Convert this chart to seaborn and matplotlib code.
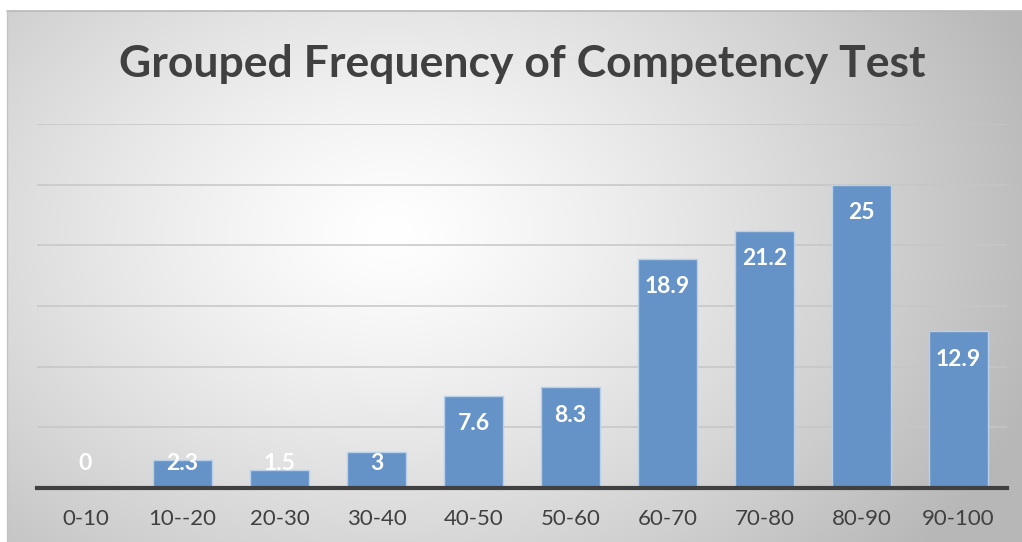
import numpy as np
import pandas as pd
import matplotlib
matplotlib.use("Agg")
import matplotlib.pyplot as plt
import seaborn as sns

# Score bands and how often each occurs
categories = ["0-10", "10--20", "20-30", "30-40", "40-50",
              "50-60", "60-70", "70-80", "80-90", "90-100"]
frequency = [0, 2.3, 1.5, 3, 7.6, 8.3, 18.9, 21.2, 25, 12.9]
value_labels = ["0", "2.3", "1.5", "3", "7.6", "8.3", "18.9", "21.2", "25", "12.9"]

df = pd.DataFrame({"band": categories, "freq": frequency})

sns.set_theme(style="white")
plt.rcParams["font.family"] = ["Lato", "DejaVu Sans"]

W, H = 1022, 542
fig = plt.figure(figsize=(W / 100, H / 100), dpi=100)
fig.patch.set_facecolor("white")

# Radial grey-to-white backdrop for the chart area
bg = fig.add_axes([7 / W, 0, 1 - 7 / W, (H - 11) / H])
bg.set_axis_off()
ny, nx = 300, 600
yy, xx = np.mgrid[0:ny, 0:nx]
px = xx / nx * (W - 7) + 7
py = yy / ny * (H - 11) + 11
d = np.sqrt(((px - 390) / 680) ** 2 + ((py - 230) / 500) ** 2)
shade = 1.0 - 0.28 * np.clip(d, 0, 1.0) ** 1.25
rgb = np.dstack([shade, shade, shade])
bg.imshow(rgb, aspect="auto", extent=[0, 1, 0, 1], origin="upper", interpolation="bilinear")
bg.set_xlim(0, 1)
bg.set_ylim(0, 1)
bg.plot([0, 1], [1, 1], color="#b8b8b8", lw=1.2, transform=bg.transAxes, clip_on=False)
bg.plot([0, 0], [0, 1], color="#c4c4c4", lw=1.0, transform=bg.transAxes, clip_on=False)

ax = fig.add_axes([37 / W, (H - 488) / H, (1007 - 37) / W, (488 - 124) / H])
ax.set_facecolor("none")

sns.barplot(data=df, x="band", y="freq", ax=ax, color="#6592c7", width=0.6,
            saturation=1, edgecolor="#b9d0ea", linewidth=1.0, zorder=3)

ax.set_ylim(0, 30)
ax.set_xlim(-0.5, len(categories) - 0.5)
ax.set_yticks(np.arange(0, 31, 5))
ax.yaxis.grid(True, color="#c6c6c6", lw=1.1, zorder=0)
ax.set_yticklabels([])
ax.tick_params(axis="y", length=0)
ax.tick_params(axis="x", length=0, pad=15, labelsize=16, labelcolor="#404040")
ax.set_xlabel("")
ax.set_ylabel("")
for s in ["top", "right", "left"]:
    ax.spines[s].set_visible(False)
ax.spines["bottom"].set_color("#404040")
ax.spines["bottom"].set_linewidth(3)
ax.spines["bottom"].set_zorder(5)

# Value labels inside the bar ends, kept above the axis for short bars
for i, (v, lab) in enumerate(zip(frequency, value_labels)):
    y = max(v - 2.3, 2.05)
    ax.text(i, y, lab, ha="center", va="center", color="white",
            fontsize=16.5, fontweight="bold", zorder=6)

fig.text(522 / W, 1 - 64 / H, "Grouped Frequency of Competency Test",
         ha="center", va="center", fontsize=32, fontweight="bold", color="#404040")

fig.savefig("out.png", dpi=100)
